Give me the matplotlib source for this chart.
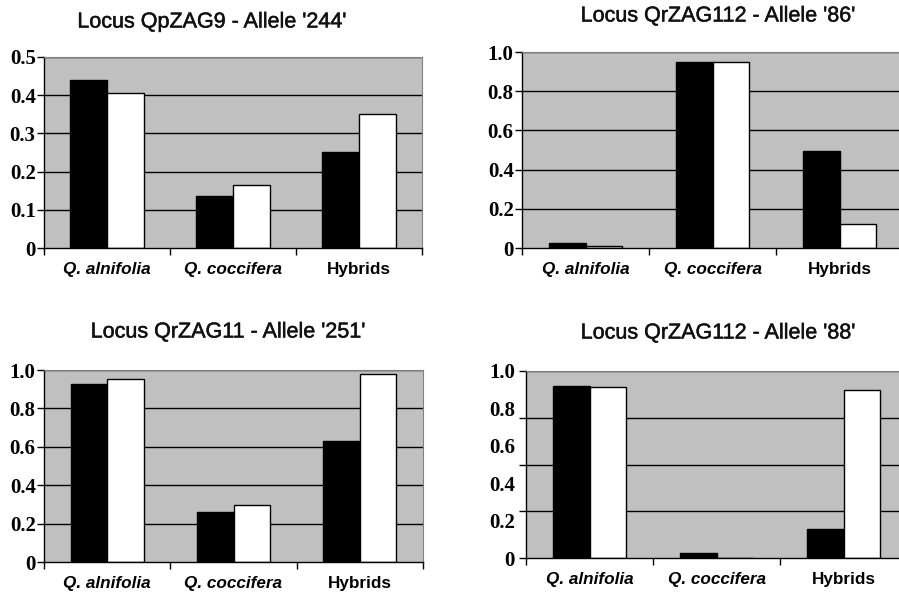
import matplotlib
matplotlib.use("Agg")
import matplotlib.pyplot as plt
import matplotlib.patheffects as pe
import numpy as np

categories = ["Q. alnifolia", "Q. coccifera", "Hybrids"]

titles = ["Locus QpZAG9 - Allele '244'", "Locus QrZAG112 - Allele '86'",
          "Locus QrZAG11 - Allele '251'", "Locus QrZAG112 - Allele '88'"]

# black series / white series per panel
p1_black = [0.439, 0.137, 0.251]
p1_white = [0.406, 0.164, 0.351]
p2_black = [0.024, 0.949, 0.497]
p2_white = [0.010, 0.949, 0.122]
p3_black = [0.927, 0.259, 0.630]
p3_white = [0.953, 0.297, 0.981]
p4_black = [0.921, 0.029, 0.157]
p4_white = [0.913, 0.000, 0.900]

p1_ticks = [0, 0.1, 0.2, 0.3, 0.4, 0.5]
p1_labels = ["0", "0.1", "0.2", "0.3", "0.4", "0.5"]
p_ticks = [0, 0.2, 0.4, 0.6, 0.8, 1.0]
p_labels = ["0", "0.2", "0.4", "0.6", "0.8", "1.0"]
p4_grid = [0, 0.25, 0.5, 0.75, 1.0]

W, H = 899, 594
fig = plt.figure(figsize=(W / 100, H / 100), dpi=100)

def rect(l, r, t, b):
    return [l / W, 1 - b / H, (r - l) / W, (b - t) / H]

boxes = [rect(44, 422, 57, 248), rect(522, 903, 52, 248),
         rect(44, 423, 370, 562), rect(526, 907, 371, 558)]
title_pos = [(212, 22), (718, 16), (228, 332), (718, 333)]
data = [(p1_black, p1_white, 0.5), (p2_black, p2_white, 1.0),
        (p3_black, p3_white, 1.0), (p4_black, p4_white, 1.0)]

bw = 0.29
x = np.arange(len(categories)) + 0.5
for i, (box, (b, w, ymax)) in enumerate(zip(boxes, data)):
    ax = fig.add_axes(box)
    ax.set_facecolor("#c0c0c0")
    ax.set_xlim(0, 3)
    ax.set_ylim(0, ymax)
    ax.xaxis.remove_overlapping_locs = False
    ax.yaxis.remove_overlapping_locs = False
    if i == 0:
        gticks = p1_ticks
    elif i == 3:
        gticks = p4_grid
    else:
        gticks = p_ticks
    for g in gticks[1:]:
        ax.axhline(g, color="black", lw=1.0, zorder=1)
    ax.bar(x - bw / 2, b, width=bw, color="black", edgecolor="black", lw=1, zorder=2)
    ax.bar(x + bw / 2, w, width=bw, color="white", edgecolor="black", lw=1, zorder=2)
    # spines
    for s in ["top", "right"]:
        ax.spines[s].set_color("#808080")
        ax.spines[s].set_linewidth(0.8)
    for s in ["left", "bottom"]:
        ax.spines[s].set_color("black")
        ax.spines[s].set_linewidth(1.0)
    # x ticks
    ax.set_xticks([0, 1, 2, 3])
    ax.set_xticklabels([])
    ax.tick_params(axis="x", which="major", direction="out", length=5, width=1)
    ax.set_xticks(x, categories, minor=True)
    ax.tick_params(axis="x", which="minor", length=0, pad=10)
    for lab, txt in zip(ax.get_xticklabels(minor=True), categories):
        lab.set_fontfamily("Liberation Sans")
        lab.set_fontweight("bold")
        lab.set_fontsize(12.3)
        if txt.startswith("Q."):
            lab.set_fontstyle("italic")
    # y ticks
    if i == 3:
        ax.set_yticks(p4_grid)
        ax.set_yticklabels([])
        ax.tick_params(axis="y", which="major", direction="out", length=5, width=1)
        ax.set_yticks(p_ticks, p_labels, minor=True)
        ax.tick_params(axis="y", which="minor", length=0, pad=8)
        labs = ax.get_yticklabels(minor=True)
    else:
        tk = p1_ticks if i == 0 else p_ticks
        lb = p1_labels if i == 0 else p_labels
        ax.set_yticks(tk, lb)
        ax.tick_params(axis="y", which="major", direction="out", length=5, width=1, pad=1)
        labs = ax.get_yticklabels()
    for lab in labs:
        lab.set_fontfamily("Liberation Serif")
        lab.set_fontweight("bold")
        lab.set_fontsize(15)
    tx, ty = title_pos[i]
    fig.text(tx / W, 1 - ty / H, titles[i], ha="center", va="center",
             fontsize=15.5, family="Liberation Sans", color="#111111",
             path_effects=[pe.withStroke(linewidth=0.35, foreground="#111111")])

fig.savefig("out.png", dpi=100)
